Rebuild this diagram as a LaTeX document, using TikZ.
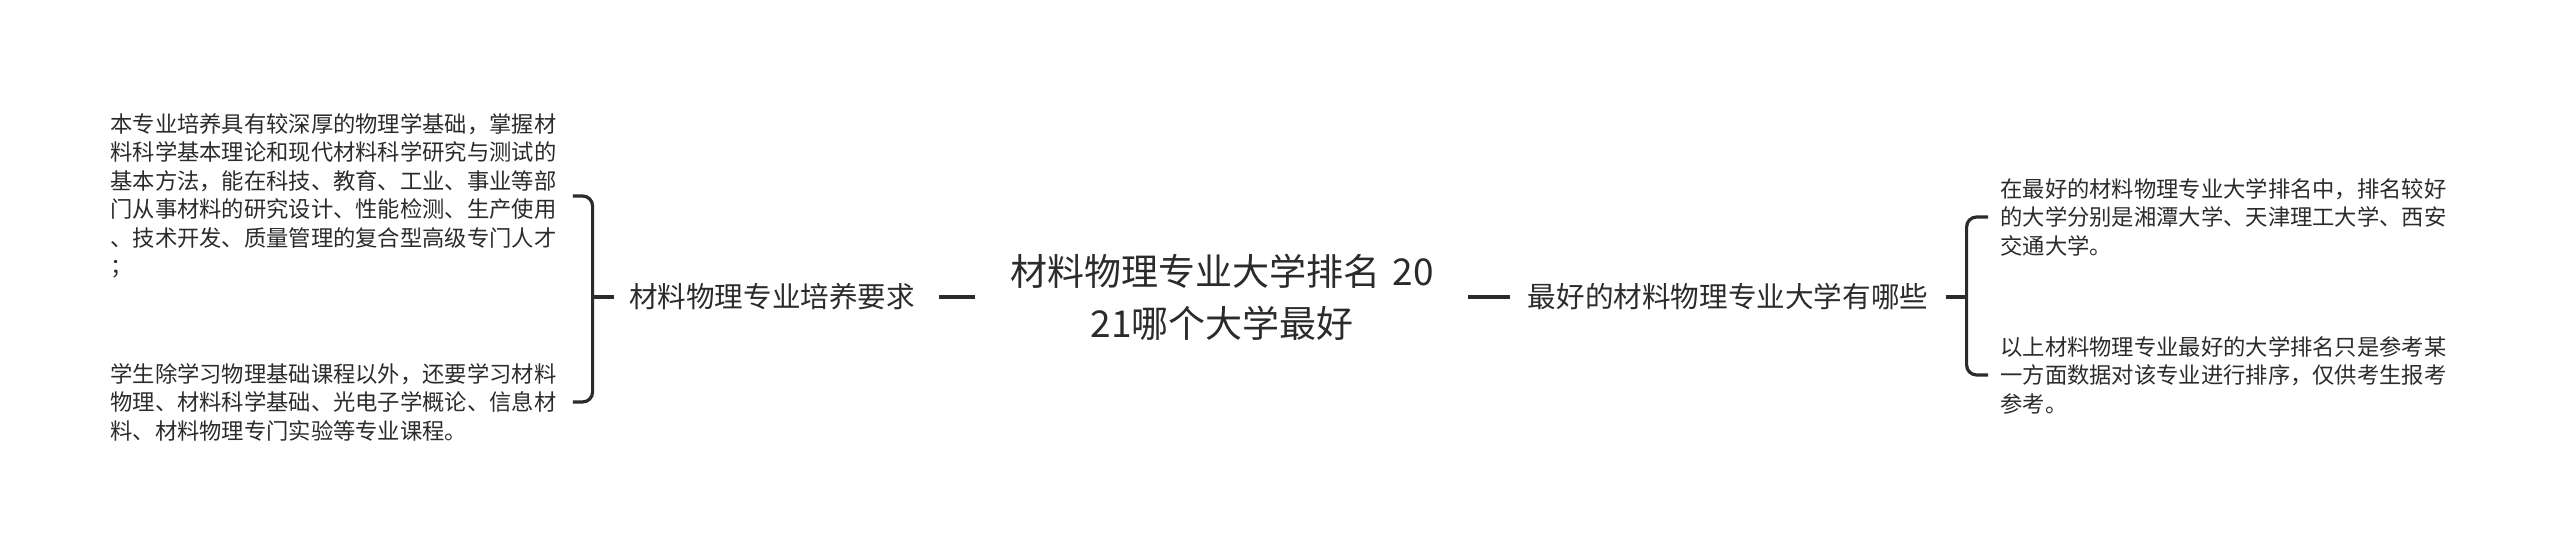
\documentclass[tikz,border=0pt]{standalone}
\usepackage{fontspec}
\setmainfont{Noto Sans CJK SC}
\usepackage{tikz}
\usetikzlibrary{calc,positioning}
\definecolor{inkdark}{HTML}{2B2B2B}
\tikzstyle{leaf} = [inner sep=0pt, 
    anchor=west, 
    align=left, 
    text=inkdark, 
    font=\fontsize{11.15pt}{14.25pt}\selectfont]
\tikzstyle{branch} = [inner sep=0pt, 
    text=inkdark, 
    font=\fontsize{14.3pt}{18pt}\selectfont]
\tikzstyle{link} = [draw=inkdark, line width=1.6pt]

\begin{document}
\begin{tikzpicture}[x=0.5pt, y=-0.5pt,
    root/.style={inner sep=0pt, 
    text width=222.5pt, 
    align=center, 
    text=inkdark, 
    font=\fontsize{18.5pt}{26pt}\selectfont},
    bracket/.style={link, rounded corners=5pt}
    ]
  \useasboundingbox (0,0) rectangle (2560,549);
  \node [root] (title) at (1222,297) {材料物理专业大学排名 20\\21哪个大学最好};
  \node [branch] (need) at (772,297) {材料物理专业培养要求};
  \node [branch] (best) at (1728,297) {最好的材料物理专业大学有哪些};
  \node [leaf] (reqA) at (110,196) {本专业培养具有较深厚的物理学基础，掌握材\\料科学基本理论和现代材料科学研究与测试的\\基本方法，能在科技、教育、工业、事业等部\\门从事材料的研究设计、性能检测、生产使用\\、技术开发、质量管理的复合型高级专门人才\\；};
  \node [leaf] (reqB) at (110,402) {学生除学习物理基础课程以外，还要学习材料\\物理、材料科学基础、光电子学概论、信息材\\料、材料物理专门实验等专业课程。};
  \node [leaf] (uniA) at (2000,217) {在最好的材料物理专业大学排名中，排名较好\\的大学分别是湘潭大学、天津理工大学、西安\\交通大学。};
  \node [leaf] (uniB) at (2000,375) {以上材料物理专业最好的大学排名只是参考某\\一方面数据对该专业进行排序，仅供考生报考\\参考。};
  \coordinate (lfork) at ([xshift=-18pt]need.west);
  \coordinate (rfork) at ([xshift=19pt]best.east);
  \draw [link, shorten <=12pt, shorten >=12pt] (need) -- (title);
  \draw [link, shorten <=11.5pt, shorten >=8.5pt] (title) -- (best);
  \draw [link] ([xshift=-7.5pt]need.west) -- (lfork);
  \draw [link] ([xshift=8.5pt]best.east) -- (rfork);
  \draw [bracket] ([xshift=8pt]reqA.east) -| (lfork) |- ([xshift=8pt]reqB.east);
  \draw [bracket] ([xshift=-6pt]uniA.west) -| (rfork) |- ([xshift=-6pt]uniB.west);
\end{tikzpicture}
\end{document}
